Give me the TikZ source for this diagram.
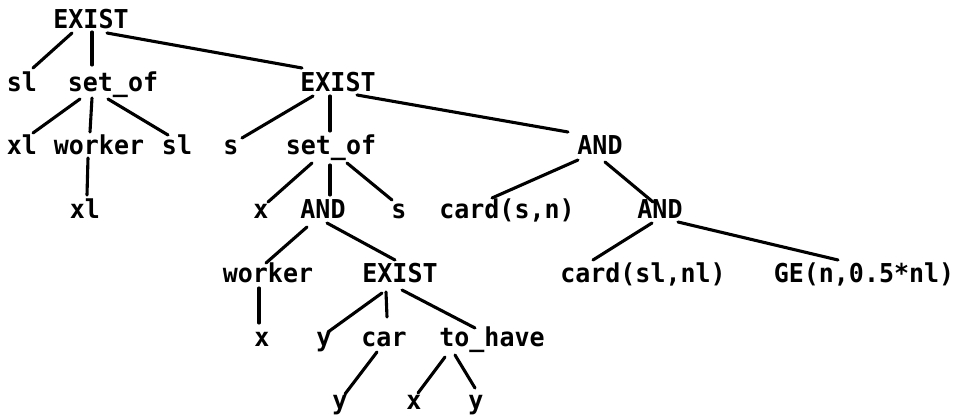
\documentclass[tikz,border=0pt]{standalone}
\usepackage{fontspec}
\setmonofont[FakeStretch=0.96]{DejaVu Sans Mono}
\usetikzlibrary{calc}
\newcommand{\tedge}[4]{\draw[edge] ($(#1.base)+(#2)$) -- ($(#3.base)+(#4)$);}
\begin{document}
\begin{tikzpicture}[x=1pt,y=-1pt,
  lbl/.style={anchor=base,inner sep=0pt,font=\fontsize{26}{30}\selectfont\ttfamily\bfseries},
  edge/.style={line width=3.1pt,line cap=round}]
\useasboundingbox[fill=white] (0,0) rectangle (959,415);
% row 1
\node[lbl] (root) at (91,28) {EXIST};
% row 2
\node[lbl] (sl1) at (22,91) {sl};
\node[lbl] (setof1) at (113,91) {set\_of};
\node[lbl] (ex2) at (338,91) {EXIST};
% row 3
\node[lbl] (xl1) at (22,154) {xl};
\node[lbl] (worker1) at (99,154) {worker};
\node[lbl] (sl2) at (177,154) {sl};
\node[lbl] (s1) at (231,154) {s};
\node[lbl] (setof2) at (331,154) {set\_of};
\node[lbl] (and1) at (600,154) {AND};
% row 4
\node[lbl] (xl2) at (85,218) {xl};
\node[lbl] (x1) at (261,218) {x};
\node[lbl] (and2) at (323,218) {AND};
\node[lbl] (s2) at (399,218) {s};
\node[lbl] (cardsn) at (507,218) {card(s,n)};
\node[lbl] (and3) at (660,218) {AND};
% row 5
\node[lbl] (worker2) at (268,282) {worker};
\node[lbl] (ex3) at (400,282) {EXIST};
\node[lbl] (cardsl) at (643,282) {card(sl,nl)};
\node[lbl] (ge) at (864,282) {GE(n,0.5*nl)};
% row 6
\node[lbl] (x2) at (262,346) {x};
\node[lbl] (y1) at (324,346) {y};
\node[lbl] (car) at (384,346) {car};
\node[lbl] (tohave) at (492,346) {to\_have};
% row 7
\node[lbl] (y2) at (340,409) {y};
\node[lbl] (x3) at (414,409) {x};
\node[lbl] (y3) at (476,409) {y};
% edges
\tedge{root}{-19,5}{sl1}{11,-23}
\tedge{root}{1,4}{setof1}{-21,-26}
\tedge{root}{16,5}{ex2}{-36,-23}
\tedge{setof1}{-33,8}{xl1}{11,-21}
\tedge{setof1}{-21,7}{worker1}{-9,-22}
\tedge{setof1}{-5,8}{sl2}{-9,-19}
\tedge{ex2}{-25,5}{s1}{11,-16}
\tedge{ex2}{-8,5}{setof2}{-1,-23}
\tedge{ex2}{19,4}{and1}{-32,-22}
\tedge{setof2}{-19,9}{x1}{7,-16}
\tedge{setof2}{-1,11}{and2}{7,-23}
\tedge{setof2}{16,9}{s2}{-7,-18}
\tedge{worker1}{-11,4}{xl2}{2,-23}
\tedge{and1}{-22,6}{cardsn}{-15,-20}
\tedge{and1}{5,8}{and3}{-7,-16}
\tedge{and2}{-16,9}{worker2}{-2,-19}
\tedge{and2}{4,5}{ex3}{-5,-22}
\tedge{and3}{-8,5}{cardsl}{-50,-22}
\tedge{and3}{18,4}{ge}{-26,-22}
\tedge{worker2}{-9,6}{x2}{-3,-23}
\tedge{ex3}{-18,11}{y1}{4,-14}
\tedge{ex3}{-14,10}{car}{3,-29}
\tedge{ex3}{2,8}{tohave}{-17,-18}
\tedge{car}{-7,6}{y2}{5,-15}
\tedge{tohave}{-47,11}{x3}{4,-16}
\tedge{tohave}{-37,9}{y3}{-1,-21}
\end{tikzpicture}
\end{document}
